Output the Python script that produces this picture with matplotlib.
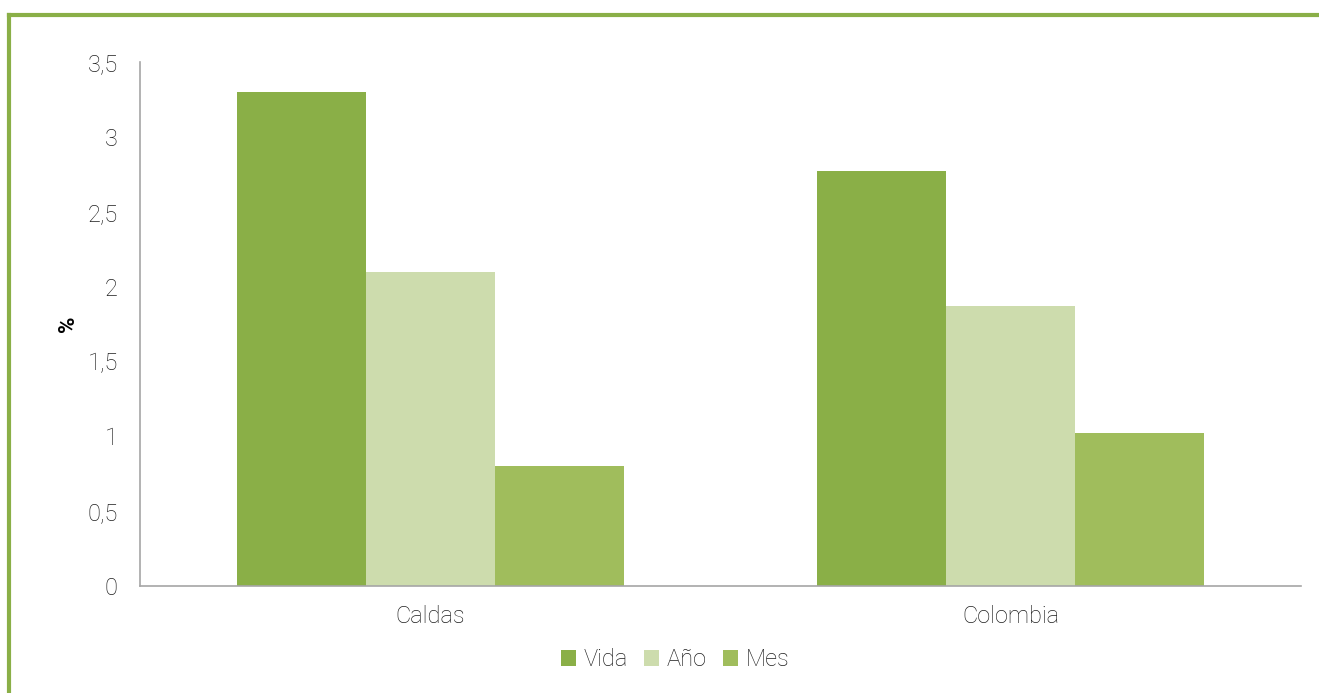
import numpy as np
import matplotlib
matplotlib.use("Agg")
import matplotlib.pyplot as plt
from matplotlib.lines import Line2D

plt.rcParams['font.family'] = ['Roboto', 'DejaVu Sans']

# data
categories = ["Caldas", "Colombia"]
series = ["Vida", "Año", "Mes"]
vida = [3.30, 2.77]
anio = [2.10, 1.87]
mes = [0.80, 1.02]
yticks = [0, 0.5, 1, 1.5, 2, 2.5, 3, 3.5]
ytick_labels = ["0", "0,5", "1", "1,5", "2", "2,5", "3", "3,5"]

colors = ["#8aaf47", "#cddcad", "#a0bd5c"]
txt = "#1f1f1f"

fig = plt.figure(figsize=(13.19, 6.93), dpi=100)
ax = fig.add_axes([0.1061, 0.1544, 0.8803, 0.7561])

x = np.arange(len(categories))
w = 0.222
for i, (vals, name) in enumerate(zip([vida, anio, mes], series)):
    ax.bar(x + (i - 1) * w, vals, width=w, color=colors[i], label=name)

ax.set_xlim(-0.5, 1.5)
ax.set_ylim(0, 3.5)
ax.set_yticks(yticks)
ax.set_yticklabels(ytick_labels)
ax.set_xticks(x)
ax.set_xticklabels(categories)
ax.tick_params(axis="both", length=0, labelsize=17, colors=txt)
for lab in ax.get_xticklabels() + ax.get_yticklabels():
    lab.set_fontweight("light")
ax.tick_params(axis="y", pad=16)
ax.tick_params(axis="x", pad=14)

for s in ["top", "right"]:
    ax.spines[s].set_visible(False)
for s in ["left", "bottom"]:
    ax.spines[s].set_color("#a6a6a6")
    ax.spines[s].set_linewidth(1.2)

ax.set_ylabel("%", fontsize=16, fontweight="bold", labelpad=6)

leg = fig.legend(*ax.get_legend_handles_labels(), loc="center", bbox_to_anchor=(675 / 1319, 1 - 660 / 693),
                 ncol=3, frameon=False, fontsize=17, handlelength=0.65, handleheight=0.65,
                 handletextpad=0.3, columnspacing=0.7, borderpad=0)
for t in leg.get_texts():
    t.set_fontweight("light")
    t.set_color(txt)

# green frame around the chart
border = "#8aaf47"
fig.add_artist(Line2D([9 / 1319, 9 / 1319], [0, 1 - 15 / 693], transform=fig.transFigure,
                      color=border, linewidth=3, solid_capstyle="projecting"))
fig.add_artist(Line2D([9 / 1319, 1], [1 - 15 / 693, 1 - 15 / 693], transform=fig.transFigure,
                      color=border, linewidth=3, solid_capstyle="projecting"))

fig.savefig("out.png", dpi=100)
